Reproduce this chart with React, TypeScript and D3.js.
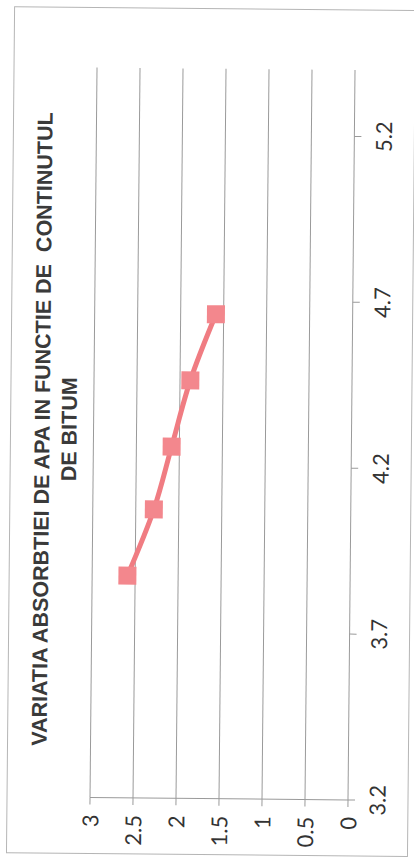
import React from "react";
import * as d3 from "d3";

// Data (bitumen content vs. water absorption)
const bitumenContent = [3.87, 4.07, 4.26, 4.46, 4.66];
const waterAbsorption = [2.59, 2.29, 2.09, 1.88, 1.59];
const xTicks = [3.2, 3.7, 4.2, 4.7, 5.2];
const yTicks = [0, 0.5, 1, 1.5, 2, 2.5, 3];
const titleLines = ["VARIATIA ABSORBTIEI DE APA IN FUNCTIE DE  CONTINUTUL", "DE BITUM"];

export default function App() {
  const plotW = 730;
  const plotH = 258;
  const x = d3.scaleLinear().domain([3.2, 5.4]).range([0, plotW]);
  const y = d3.scaleLinear().domain([0, 3]).range([0, -plotH]);
  const pts = bitumenContent.map((b, i) => [x(b), y(waterAbsorption[i])] as [number, number]);
  const line = d3.line().curve(d3.curveCatmullRom.alpha(0.5))(pts) || "";
  const tilt = 0.55;
  const grid = "#9a9a9a";
  const textFill = "#333";
  const m = 18;

  return (
    <svg
      width={414}
      height={865}
      style={{ position: "absolute", left: 0, top: 0, background: "#fff" }}
    >
      <rect x={0} y={0} width={414} height={865} fill="#fff" />
      <g transform={`translate(348,800) rotate(${-90 + tilt})`}>
        <rect x={-56} y={-341} width={846} height={401} fill="none" stroke="#b5b5b5" strokeWidth={1} />
        {/* gridlines */}
        {yTicks.filter((t) => t > 0).map((t) => (
          <line key={"g" + t} x1={0} x2={plotW} y1={y(t)} y2={y(t)} stroke={grid} strokeWidth={1} />
        ))}
        {/* axes */}
        <line x1={0} x2={plotW} y1={0} y2={0} stroke={grid} strokeWidth={1} />
        <line x1={0} x2={0} y1={0} y2={-plotH} stroke={grid} strokeWidth={1} />
        {xTicks.map((t) => (
          <g key={"xt" + t}>
            <line x1={x(t)} x2={x(t)} y1={0} y2={7} stroke={grid} strokeWidth={1} />
            <text
              x={x(t)}
              y={29}
              textAnchor="middle"
              dominantBaseline="central"
              fontFamily="Lato, 'Liberation Sans', sans-serif"
              fontSize={22}
              fill={textFill}
            >
              {t.toFixed(1)}
            </text>
          </g>
        ))}
        {yTicks.map((t) => (
          <g key={"yt" + t}>
            <line x1={-7} x2={0} y1={y(t)} y2={y(t)} stroke={grid} strokeWidth={1} />
            <text
              x={-17}
              y={y(t)}
              textAnchor="end"
              dominantBaseline="central"
              fontFamily="Lato, 'Liberation Sans', sans-serif"
              fontSize={22}
              fill={textFill}
            >
              {String(t)}
            </text>
          </g>
        ))}
        {/* title */}
        {titleLines.map((s, i) => (
          <text
            key={"t" + i}
            x={368}
            y={-309 + i * 27}
            textAnchor="middle"
            dominantBaseline="central"
            fontFamily="'Liberation Sans', Arial, sans-serif"
            fontWeight="bold"
            fontSize={21.5}
            fill="#3a3a3a"
            style={{ whiteSpace: "pre" }}
          >
            {s}
          </text>
        ))}
        {/* series */}
        <path d={line} fill="none" stroke="#f07c82" strokeWidth={5} strokeLinecap="round" />
        {pts.map((p, i) => (
          <rect key={"m" + i} x={p[0] - m / 2} y={p[1] - m / 2} width={m} height={m} fill="#f3878d" />
        ))}
      </g>
    </svg>
  );
}
